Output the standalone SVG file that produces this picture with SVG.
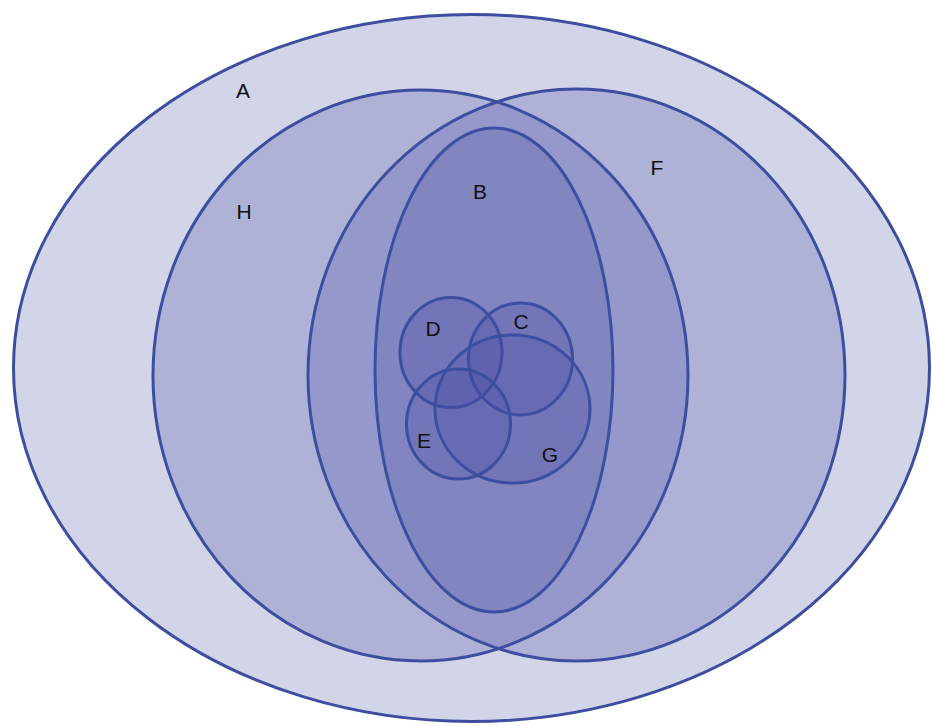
<svg xmlns="http://www.w3.org/2000/svg" width="932" height="726" viewBox="0 0 932 726">
<style>
.set{fill:#464ba5;fill-opacity:0.25;stroke:#3d4ea0;stroke-width:3}
.outer{fill:#d2d4e8;stroke:#3d4ea0;stroke-width:3}
.lbl{font-family:"Liberation Sans",Arial,sans-serif;font-size:21px;fill:#111;text-anchor:middle}
</style>
<rect width="932" height="726" fill="#ffffff"/>
<g id="A"><ellipse class="outer" cx="471.5" cy="368" rx="458" ry="353.5"/><text class="lbl" x="243" y="98">A</text></g>
<g id="H"><ellipse class="set" cx="420.5" cy="375.5" rx="267.5" ry="285.5"/><text class="lbl" x="244" y="219">H</text></g>
<g id="F"><ellipse class="set" cx="576.5" cy="375" rx="268.5" ry="286"/><text class="lbl" x="657" y="175">F</text></g>
<g id="B"><ellipse class="set" cx="494" cy="370" rx="119" ry="242"/><text class="lbl" x="480" y="199">B</text></g>
<g id="D"><ellipse class="set" cx="451" cy="352.5" rx="51" ry="55"/><text class="lbl" x="433" y="336">D</text></g>
<g id="C"><ellipse class="set" cx="520.5" cy="359" rx="52" ry="56"/><text class="lbl" x="521" y="329">C</text></g>
<g id="G"><ellipse class="set" cx="512.5" cy="409" rx="77.5" ry="74"/><text class="lbl" x="550" y="462">G</text></g>
<g id="E"><ellipse class="set" cx="458.5" cy="424" rx="52" ry="55"/><text class="lbl" x="424" y="448">E</text></g>
<g id="connectors"></g>
</svg>
